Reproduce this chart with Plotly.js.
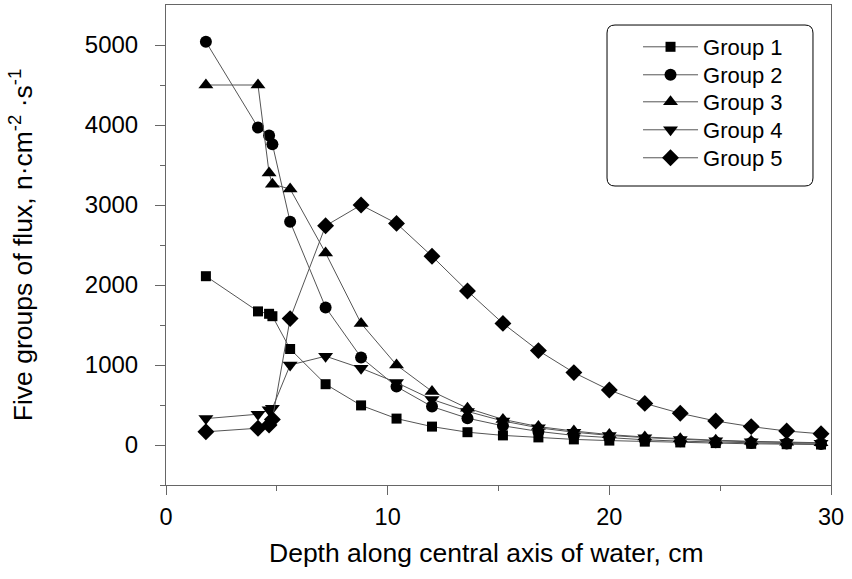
<!DOCTYPE html>
<html>
<head>
<meta charset="utf-8">
<script src="https://cdn.plot.ly/plotly-3.0.1.min.js"></script>
<style>html,body{margin:0;padding:0;background:#fff;}#chart{width:852px;height:579px;}</style>
</head>
<body>
<div id="chart"></div>
<script>
const depth = [1.8, 4.15, 4.65, 4.8, 5.6, 7.2, 8.8, 10.4, 12.0, 13.6, 15.2, 16.8, 18.4, 20.0, 21.6, 23.2, 24.8, 26.4, 28.0, 29.55];
const group1 = [2110, 1670, 1640, 1610, 1200, 760, 495, 330, 230, 160, 120, 95, 70, 55, 42, 32, 24, 15, 10, 6];
const group2 = [5040, 3970, 3870, 3760, 2790, 1720, 1095, 730, 480, 335, 240, 170, 120, 90, 65, 48, 35, 25, 18, 12];
const group3 = [4500, 4500, 3400, 3260, 3200, 2400, 1520, 1000, 670, 460, 320, 230, 175, 130, 100, 78, 60, 46, 35, 28];
const group4 = [330, 385, 440, 460, 1000, 1110, 960, 780, 570, 420, 300, 215, 160, 120, 92, 70, 53, 40, 30, 23];
const group5 = [165, 210, 250, 320, 1580, 2740, 3000, 2770, 2360, 1925, 1520, 1180, 905, 687, 520, 396, 300, 230, 175, 140];
const names = ["Group 1", "Group 2", "Group 3", "Group 4", "Group 5"];
const series = [group1, group2, group3, group4, group5];
const symbols = ["square", "circle", "triangle-up", "triangle-down", "diamond"];
const sizes = [10, 12, 13, 13, 13];
const xTitle = "Depth along central axis of water, cm";
const yTitle = "Five groups of flux, n·cm<sup>-2</sup> ·s<sup>-1</sup>";

const legendIds = ["legend", "legend2", "legend3", "legend4", "legend5"];
const traces = series.map((ys, i) => ({
  x: depth, y: ys, name: names[i], type: "scatter", mode: "lines+markers",
  legend: legendIds[i],
  line: {color: "#555", width: 1},
  marker: {symbol: symbols[i], size: sizes[i], color: "#000", line: {width: 0}}
}));

const fam = "Liberation Sans, Arial, sans-serif";
const legendRowY = [0.9125, 0.8542, 0.7979, 0.7396, 0.6813];
const layout = {
  width: 852, height: 579,
  margin: {l: 166, r: 21, t: 5, b: 94},
  paper_bgcolor: "#fff", plot_bgcolor: "#fff",
  font: {family: fam, color: "#000"},
  showlegend: true,
  xaxis: {
    range: [0, 30], tickvals: [0, 10, 20, 30], ticktext: ["0", "10", "20", "30"],
    ticks: "outside", ticklen: 9, tickcolor: "#666",
    minor: {tickvals: [5, 15, 25], ticks: "outside", ticklen: 5, tickcolor: "#666"},
    showgrid: false, zeroline: false,
    showline: true, linecolor: "#666", linewidth: 1, mirror: true,
    tickfont: {size: 23.5, family: fam, color: "#000"},
    ticklabelstandoff: 2
  },
  yaxis: {
    range: [-500, 5500], tickvals: [0, 1000, 2000, 3000, 4000, 5000],
    ticks: "outside", ticklen: 10, tickcolor: "#666",
    minor: {tickvals: [-500, 500, 1500, 2500, 3500, 4500], ticks: "outside", ticklen: 5, tickcolor: "#666"},
    showgrid: false, zeroline: false,
    showline: true, linecolor: "#666", linewidth: 1, mirror: true,
    tickfont: {size: 24, family: fam, color: "#000"},
    ticklabelstandoff: 12,
    title: {text: yTitle, font: {size: 26.5, family: fam, color: "#000"}, standoff: 44}
  },
  annotations: [{
    text: xTitle, xref: "paper", yref: "paper", x: 0.4827, y: -0.1417,
    xanchor: "center", yanchor: "middle", showarrow: false,
    font: {size: 26.5, family: fam, color: "#000"}
  }],
  shapes: [{
    type: "path", xref: "paper", yref: "paper",
    path: "M 0.6752,0.9583 L 0.9609,0.9583 Q 0.9729,0.9583 0.9729,0.9416 L 0.9729,0.6396 Q 0.9729,0.6229 0.9609,0.6229 L 0.6752,0.6229 Q 0.6632,0.6229 0.6632,0.6396 L 0.6632,0.9416 Q 0.6632,0.9583 0.6752,0.9583 Z",
    line: {color: "#000", width: 1}, fillcolor: "rgba(0,0,0,0)"
  }]
};
legendIds.forEach((id, i) => {
  layout[id] = {
    x: 0.7098, y: legendRowY[i], xanchor: "left", yanchor: "middle",
    bgcolor: "rgba(0,0,0,0)", borderwidth: 0,
    font: {size: 22, family: fam, color: "#000"},
    itemwidth: 55
  };
});
Plotly.newPlot("chart", traces, layout, {displayModeBar: false, staticPlot: true});
</script>
</body>
</html>
